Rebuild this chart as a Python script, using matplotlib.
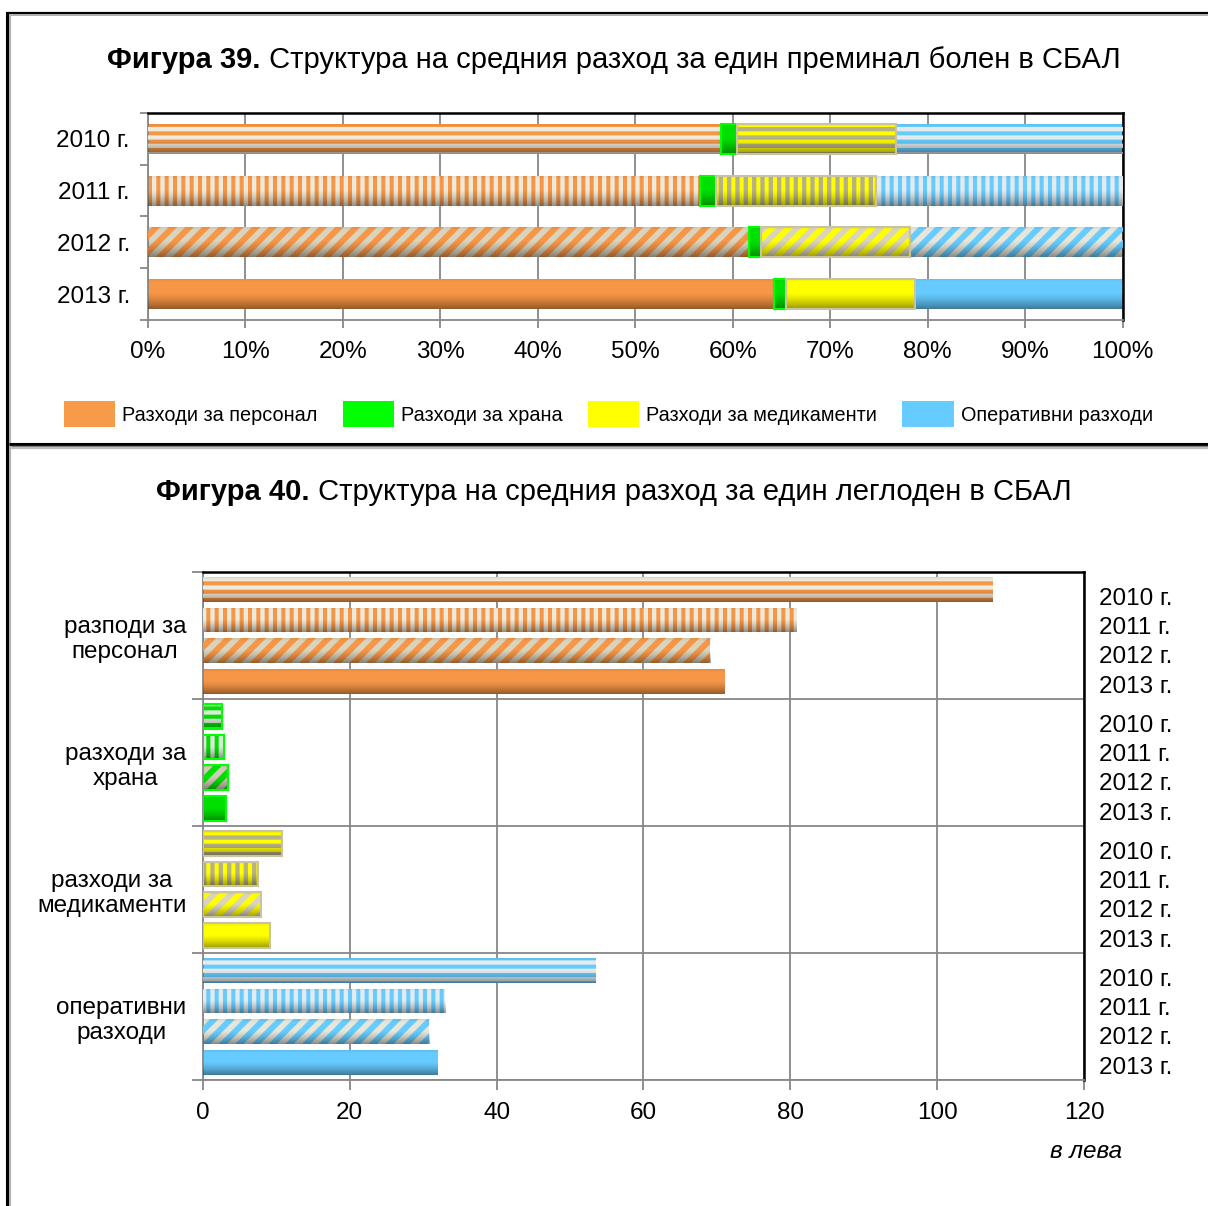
import matplotlib
matplotlib.use("Agg")
import matplotlib.pyplot as plt
import numpy as np
from matplotlib.lines import Line2D
from matplotlib.patches import Patch
from matplotlib.offsetbox import TextArea, HPacker, AnchoredOffsetbox
from matplotlib.transforms import blended_transform_factory

plt.rcParams["font.family"] = ["Liberation Sans", "DejaVu Sans"]
plt.rcParams["hatch.linewidth"] = 3.1

YEARS = ["2010 г.", "2011 г.", "2012 г.", "2013 г."]
SERIES = ["Разходи за персонал", "Разходи за храна", "Разходи за медикаменти", "Оперативни разходи"]

# structure of the average cost per discharged patient, %
share_personnel = [58.8, 56.6, 61.7, 64.2]
share_food = [1.6, 1.7, 1.2, 1.3]
share_medicines = [16.3, 16.4, 15.3, 13.2]
share_operating = [23.3, 25.3, 21.8, 21.3]

# average cost per bed-day, leva
COST_GROUPS = ["разподи за\nперсонал", "разходи за\nхрана", "разходи за\nмедикаменти", "оперативни\nразходи"]
bed_day_personnel = [107.6, 80.9, 69.1, 71.1]
bed_day_food = [2.6, 2.8, 3.4, 3.1]
bed_day_medicines = [10.8, 7.5, 7.9, 9.1]
bed_day_operating = [53.5, 33.0, 30.8, 32.0]

KEYS = ["personnel", "food", "medicines", "operating"]
COLOR = {"personnel": "#F79646", "food": "#00E000", "medicines": "#FFFF00", "operating": "#66CCFF"}
LEGEND_COLOR = {"personnel": "#F79A4A", "food": "#00FF00", "medicines": "#FFFF00", "operating": "#66CCFF"}
LIGHT = {"personnel": "#EFEBDC", "food": "#DDEBD8", "medicines": "#B7B187", "operating": "#E4EBEF"}
BEIGE = {"personnel": "#D9D4BE", "food": "#CFCBB6", "medicines": "#D9D4BC", "operating": "#E8E6D9"}
EDGE = {"personnel": None, "food": "#00FF00", "medicines": "#C9C3A2", "operating": None}
# per-year texture: (hatch, which colour goes in the background)
YEAR_STYLE = [("--", "color"), ("||", "color"), ("//", "beige"), (None, "color")]

GRID = "#878787"
FS = 17.5


def shade(ax, patch):
    """Darken the lower part of a bar to give it a rounded look."""
    x0, y0 = patch.get_xy()
    w, h = patch.get_width(), patch.get_height()
    t = np.linspace(0, 1, 64)
    alpha = np.clip((t - 0.45) / 0.55, 0, 1) ** 1.4 * 0.40 + np.clip((0.12 - t) / 0.12, 0, 1) * 0.08
    rgba = np.zeros((64, 1, 4))
    rgba[:, 0, 3] = alpha
    im = ax.imshow(rgba, extent=(x0, x0 + w, y0 + h, y0), origin="upper", aspect="auto",
                   interpolation="bilinear", zorder=4)
    im.set_clip_path(patch)


def draw_bar(ax, y, width, left, height, key, year_idx, textured=True):
    hatch, bg = YEAR_STYLE[year_idx]
    if not textured:
        hatch, bg = None, "color"
    face = BEIGE[key] if bg == "beige" else COLOR[key]
    bar = ax.barh(y, width, left=left, height=height, color=face, linewidth=0, zorder=2)[0]
    if hatch:
        stripe = COLOR[key] if bg == "beige" else LIGHT[key]
        hb = ax.barh(y, width, left=left, height=height, facecolor="none", edgecolor=stripe,
                     linewidth=0, hatch=hatch, zorder=3)[0]
        if hatch == "//" and hasattr(hb, "set_hatch_linewidth"):
            hb.set_hatch_linewidth(4.3)
    shade(ax, bar)
    if EDGE[key]:
        ax.barh(y, width, left=left, height=height, fill=False, edgecolor=EDGE[key],
                linewidth=1.5, zorder=5)


def style_axes(ax):
    ax.set_axisbelow(True)
    for side in ("top", "right"):
        ax.spines[side].set_color("black")
        ax.spines[side].set_linewidth(1.8)
    for side in ("left", "bottom"):
        ax.spines[side].set_color(GRID)
        ax.spines[side].set_linewidth(1.3)


def title(fig, bold, rest, y):
    box = HPacker(children=[TextArea(bold, textprops=dict(weight="bold", size=21)),
                            TextArea(rest, textprops=dict(size=21))],
                  align="baseline", pad=0, sep=0)
    fig.add_artist(AnchoredOffsetbox(loc="center", child=box, bbox_to_anchor=(0.508, y),
                                     bbox_transform=fig.transFigure, frameon=False,
                                     pad=0, borderpad=0))


fig = plt.figure(figsize=(12.08, 12.06), dpi=100)

# ---- Figure 39: 100% stacked bars ----
shares = dict(zip(KEYS, [share_personnel, share_food, share_medicines, share_operating]))
ax1 = fig.add_axes([0.1225, 0.7347, 0.8069, 0.1716])
style_axes(ax1)
ypos = np.arange(len(YEARS)) + 0.5
for j in range(len(YEARS)):
    left = 0.0
    for key in KEYS:
        draw_bar(ax1, ypos[j], shares[key][j], left, 0.58, key, j, textured=(key != "food"))
        left += shares[key][j]

ax1.set_xlim(0, 100)
ax1.set_ylim(len(YEARS), 0)
ax1.set_xticks(range(0, 101, 10), [f"{v}%" for v in range(0, 101, 10)])
ax1.set_yticks(ypos, YEARS)
ax1.set_yticks(np.arange(len(YEARS) + 1), minor=True)
ax1.tick_params(axis="y", which="major", length=0, pad=13, labelsize=FS)
ax1.tick_params(axis="y", which="minor", length=6, width=1.3, color=GRID, direction="out")
ax1.tick_params(axis="x", length=6, width=1.3, color=GRID, pad=9, labelsize=FS)
ax1.grid(axis="x", color=GRID, linewidth=1.3)

title(fig, "Фигура 39.", " Структура на средния разход за един преминал болен в СБАЛ", 0.950)

handles = [Patch(facecolor=LEGEND_COLOR[k], edgecolor="none") for k in KEYS]
fig.legend(handles, SERIES, loc="center", bbox_to_anchor=(0.5035, 0.6567), ncol=4,
           frameon=False, prop=dict(size=14.3),
           handlelength=2.6, handleheight=1.6, handletextpad=0.35, columnspacing=1.25,
           borderaxespad=0, borderpad=0)

# ---- Figure 40: grouped bars in leva ----
costs = dict(zip(KEYS, [bed_day_personnel, bed_day_food, bed_day_medicines, bed_day_operating]))
ax2 = fig.add_axes([0.1680, 0.1045, 0.7293, 0.4212])
style_axes(ax2)
slot = [0.135 + 0.243 * j for j in range(len(YEARS))]
label_slot = [0.21 + 0.231 * j for j in range(len(YEARS))]
right_side = blended_transform_factory(ax2.transAxes, ax2.transData)
for gi, key in enumerate(KEYS):
    for j in range(len(YEARS)):
        draw_bar(ax2, gi + slot[j], costs[key][j], 0, 0.195, key, j)
        ax2.text(1.017, gi + label_slot[j], YEARS[j], transform=right_side, ha="left",
                 va="center", fontsize=FS)

ax2.set_xlim(0, 120)
ax2.set_ylim(len(KEYS), 0)
ax2.set_xticks(range(0, 121, 20))
ax2.set_yticks(np.arange(len(KEYS)) + 0.5, COST_GROUPS)
for lab in ax2.get_yticklabels():
    lab.set_multialignment("center")
ax2.set_yticks(np.arange(len(KEYS) + 1), minor=True)
ax2.tick_params(axis="y", which="major", length=0, pad=12, labelsize=FS)
ax2.tick_params(axis="y", which="minor", length=8, width=1.3, color=GRID, direction="out")
ax2.tick_params(axis="x", length=7, width=1.3, color=GRID, pad=9, labelsize=FS)
ax2.grid(axis="x", color=GRID, linewidth=1.3)
ax2.grid(axis="y", which="minor", color=GRID, linewidth=1.3)

title(fig, "Фигура 40.", " Структура на средния разход за един леглоден в СБАЛ", 0.592)
fig.text(1122 / 1208, 1 - 1152 / 1206, "в лева", ha="right", va="center", fontsize=FS,
         style="italic")

# page frame: black rule with a grey shadow line beside it
W, H = 1208, 1206
for xs, ys, col, lw in [
    ([6 / W, 1.0], [1 - 13 / H, 1 - 13 / H], "black", 1.6),
    ([10 / W, 1.0], [1 - 15.3 / H, 1 - 15.3 / H], "#A8A8A8", 1.3),
    ([10.3 / W, 10.3 / W], [0.0, 1 - 14 / H], "#B4B4B4", 1.6),
    ([7.5 / W, 7.5 / W], [0.0, 1 - 12 / H], "black", 2.2),
    ([9 / W, 1.0], [1 - 444 / H, 1 - 444 / H], "black", 2.2),
    ([11 / W, 1.0], [1 - 446 / H, 1 - 446 / H], "#7A7A7A", 1.0),
    ([11 / W, 1.0], [1 - 447.8 / H, 1 - 447.8 / H], "#BDBDBD", 1.6),
]:
    fig.add_artist(Line2D(xs, ys, transform=fig.transFigure, color=col, linewidth=lw,
                          solid_capstyle="butt"))

fig.savefig("out.png", dpi=100)
